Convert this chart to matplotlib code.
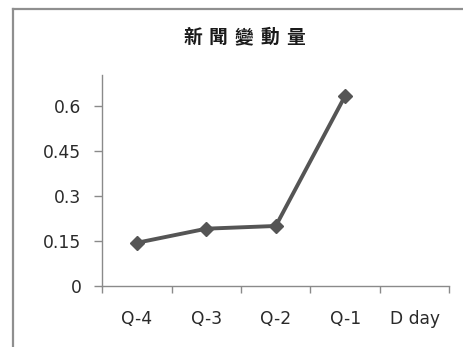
import matplotlib
matplotlib.use("Agg")
import matplotlib.pyplot as plt
from matplotlib.lines import Line2D

# Data
categories = ["Q-4", "Q-3", "Q-2", "Q-1", "D day"]
values = [0.144, 0.191, 0.200, 0.634]
y_ticks = [0, 0.15, 0.3, 0.45, 0.6]
y_tick_labels = ["0", "0.15", "0.3", "0.45", "0.6"]
title_chars = ["新", "聞", "變", "動", "量"]

W, H = 464, 347
fig = plt.figure(figsize=(W / 100, H / 100), dpi=100)
fig.patch.set_facecolor("white")

# Axes placement (pixels -> figure fraction)
ax_left, ax_right, ax_top, ax_bottom = 102.3, 449.3, 75, 286
ax = fig.add_axes([ax_left / W, (H - ax_bottom) / H,
                   (ax_right - ax_left) / W, (ax_bottom - ax_top) / H])

xs = list(range(len(values)))
ax.plot(xs, values, color="#555555", lw=2.8, marker="D", ms=7.5,
        markerfacecolor="#555555", markeredgecolor="#555555",
        solid_joinstyle="round", zorder=3)

ax.set_xlim(-0.5, len(categories) - 0.5)
ax.set_ylim(0, 0.703)

ax.set_yticks(y_ticks)
ax.set_yticklabels(y_tick_labels)
ax.set_xticks([i + 0.5 for i in range(-1, len(categories))])
ax.set_xticklabels([])
ax.set_xticks(range(len(categories)), minor=True)
ax.set_xticklabels(categories, minor=True)

label_font = ["DejaVu Sans"]
for lab in ax.get_yticklabels() + ax.get_xticklabels(minor=True):
    lab.set_family(label_font)
    lab.set_fontsize(12.3)
    lab.set_color("#2a2a2a")

ax.tick_params(axis="y", which="major", length=6, width=1, color="#8a8a8a",
               pad=9)
ax.tick_params(axis="x", which="major", length=5, width=1, color="#8a8a8a",
               direction="out")
ax.tick_params(axis="x", which="minor", length=0, pad=17)

for side in ("top", "right"):
    ax.spines[side].set_visible(False)
for side in ("left", "bottom"):
    ax.spines[side].set_color("#8a8a8a")
    ax.spines[side].set_linewidth(1)
ax.set_facecolor("white")

# Title, one glyph at a time to keep the wide letter spacing
pitch = 25.7
cx = 244.0
ty = 37.5
n = len(title_chars)
for i, ch in enumerate(title_chars):
    x = cx + (i - (n - 1) / 2) * pitch
    fig.text(x / W, 1 - ty / H, ch, ha="center", va="center",
             fontsize=13.5, fontweight="heavy", color="#1a1a1a",
             family=["Noto Sans CJK TC", "DejaVu Sans"])

# Chart-area frame (left and top edges)
frame_color = "#8f8f8f"
fig.add_artist(Line2D([13.5 / W, 13.5 / W], [1 - 8.5 / H, -0.1],
                      color=frame_color, lw=1.6, transform=fig.transFigure))
fig.add_artist(Line2D([13.5 / W, 1.1], [1 - 8.5 / H, 1 - 8.5 / H],
                      color=frame_color, lw=1.6, transform=fig.transFigure))

fig.savefig("out.png", dpi=100, facecolor="white")
